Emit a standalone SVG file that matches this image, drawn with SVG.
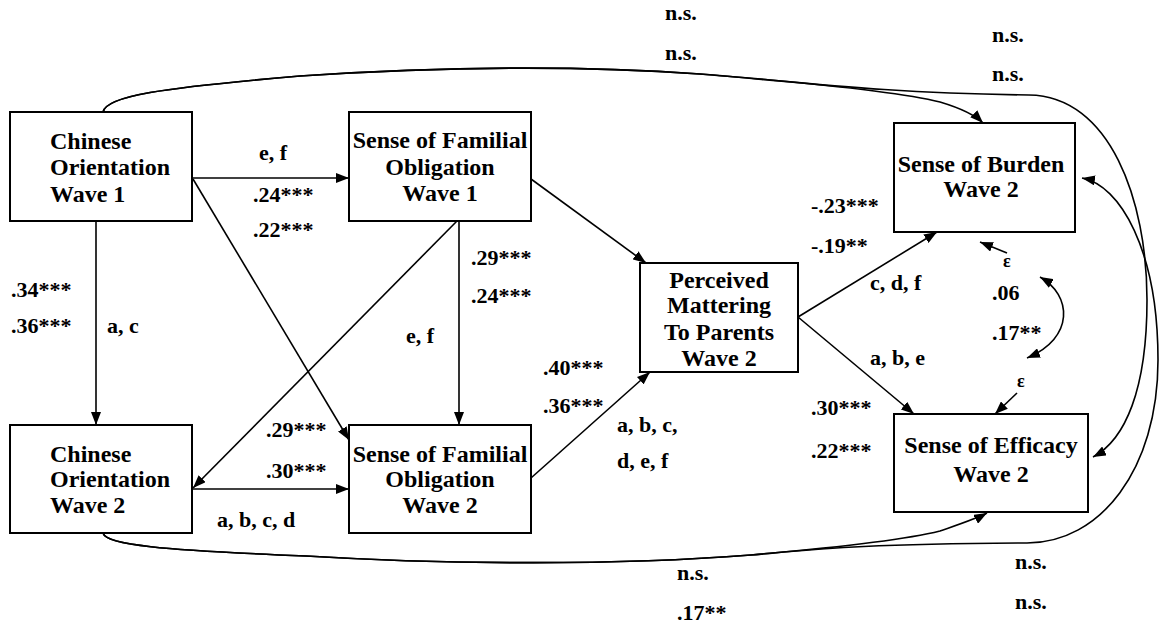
<svg xmlns="http://www.w3.org/2000/svg" width="1162" height="626" viewBox="0 0 1162 626">
<style>
.box{fill:#fff;stroke:#000;stroke-width:2}
text{font-family:'Liberation Serif','Times New Roman',Times,serif;font-weight:bold;fill:#000}
.nt{font-size:24px}
.c{text-anchor:middle}
.lb{font-size:22px}
.eps{font-size:18px}
.ln{fill:none;stroke:#000;stroke-width:1.6}
.ar{marker-end:url(#ah)}
</style>
<defs>
<marker id="ah" viewBox="0 0 13 10" refX="13" refY="5" markerWidth="13" markerHeight="10" markerUnits="userSpaceOnUse" orient="auto-start-reverse"><path d="M0,0 L13,5 L0,10 z" fill="#000"/></marker>
</defs>
<rect width="1162" height="626" fill="#fff"/>
<g id="connectors">
<path class="ln ar" d="M192 178 L349 178"/>
<path class="ln ar" d="M96 221 L96 425"/>
<path class="ln ar" d="M459 221 L459 425"/>
<path class="ln ar" d="M193 179 L349 440"/>
<path class="ln ar" d="M457 221 L193 488"/>
<path class="ln ar" d="M192 489 L349 489"/>
<path class="ln ar" d="M531 179 L646 263"/>
<path class="ln ar" d="M531 478 L650 372"/>
<path class="ln ar" d="M798 317 L937 232"/>
<path class="ln ar" d="M798 317 L914 414"/>
<path class="ln ar" d="M1007 253 L980 242"/>
<path class="ln ar" d="M1017 393 L995 414"/>
<path class="ln ar" style="marker-start:url(#ah)" d="M1040 277 C1072 295 1075 338 1027 358"/>
<path class="ln ar" d="M103 112 C106 96 160 88 300 76 C420 68 560 64 700 74 C800 82 900 92 940 102 C960 108 975 115 983 123"/>
<path class="ln ar" d="M103 112 C106 96 160 88 300 76 C420 68 560 64 700 74 C800 82 880 93 1029 95 C1110 96 1147 200 1147 300 C1147 390 1125 440 1093 457"/>
<path class="ln ar" d="M103 533 C106 545 160 550 306 556 C420 563 600 567 751 555 C820 549 900 541 940 531 C960 524 978 518 987 513"/>
<path class="ln ar" d="M103 533 C106 545 160 550 306 556 C420 563 600 567 751 555 C820 549 860 544 1027 543 C1100 543 1158 470 1158 360 C1158 250 1120 185 1082 178"/>
</g>
<g id="n-cw1"><rect class="box" x="10" y="112" width="182" height="109"/><text class="nt" x="50" y="149">Chinese</text><text class="nt" x="50" y="175">Orientation</text><text class="nt" x="50" y="202">Wave 1</text></g>
<g id="n-sfo1"><rect class="box" x="349" y="112" width="182" height="109"/><text class="nt c" x="440" y="148">Sense of Familial</text><text class="nt c" x="440" y="175">Obligation</text><text class="nt c" x="440" y="201">Wave 1</text></g>
<g id="n-cw2"><rect class="box" x="10" y="425" width="182" height="108"/><text class="nt" x="50" y="462">Chinese</text><text class="nt" x="50" y="487">Orientation</text><text class="nt" x="50" y="513">Wave 2</text></g>
<g id="n-sfo2"><rect class="box" x="349" y="425" width="182" height="108"/><text class="nt c" x="440" y="462">Sense of Familial</text><text class="nt c" x="440" y="487">Obligation</text><text class="nt c" x="440" y="513">Wave 2</text></g>
<g id="n-pm"><rect class="box" x="640" y="263" width="158" height="109"/><text class="nt c" x="719" y="288">Perceived</text><text class="nt c" x="719" y="313">Mattering</text><text class="nt c" x="719" y="340">To Parents</text><text class="nt c" x="719" y="366">Wave 2</text></g>
<g id="n-burden"><rect class="box" x="894" y="123" width="181" height="109"/><text class="nt c" x="981" y="172">Sense of Burden</text><text class="nt c" x="981" y="197">Wave 2</text></g>
<g id="n-efficacy"><rect class="box" x="894" y="414" width="194" height="98"/><text class="nt c" x="991" y="453">Sense of Efficacy</text><text class="nt c" x="991" y="482">Wave 2</text></g>
<g id="labels">
<text class="lb" x="259" y="160">e, f</text>
<text class="lb" x="253" y="202">.24***</text>
<text class="lb" x="253" y="237">.22***</text>
<text class="lb" x="11" y="297">.34***</text>
<text class="lb" x="11" y="333">.36***</text>
<text class="lb" x="107" y="333">a, c</text>
<text class="lb" x="471" y="265">.29***</text>
<text class="lb" x="471" y="303">.24***</text>
<text class="lb" x="406" y="343">e, f</text>
<text class="lb" x="543" y="375">.40***</text>
<text class="lb" x="543" y="413">.36***</text>
<text class="lb" x="617" y="432">a, b, c,</text>
<text class="lb" x="617" y="468">d, e, f</text>
<text class="lb" x="266" y="437">.29***</text>
<text class="lb" x="266" y="478">.30***</text>
<text class="lb" x="217" y="527">a, b, c, d</text>
<text class="lb" x="665" y="20">n.s.</text>
<text class="lb" x="665" y="60">n.s.</text>
<text class="lb" x="992" y="42">n.s.</text>
<text class="lb" x="992" y="81">n.s.</text>
<text class="lb" x="811" y="213">-.23***</text>
<text class="lb" x="811" y="253">-.19**</text>
<text class="lb" x="870" y="290">c, d, f</text>
<text class="lb" x="870" y="365">a, b, e</text>
<text class="lb" x="992" y="300">.06</text>
<text class="lb" x="992" y="340">.17**</text>
<text class="eps" x="1003" y="267">ε</text>
<text class="eps" x="1017" y="387">ε</text>
<text class="lb" x="811" y="415">.30***</text>
<text class="lb" x="811" y="458">.22***</text>
<text class="lb" x="677" y="580">n.s.</text>
<text class="lb" x="677" y="620">.17**</text>
<text class="lb" x="1015" y="569">n.s.</text>
<text class="lb" x="1015" y="609">n.s.</text>
</g>
</svg>
